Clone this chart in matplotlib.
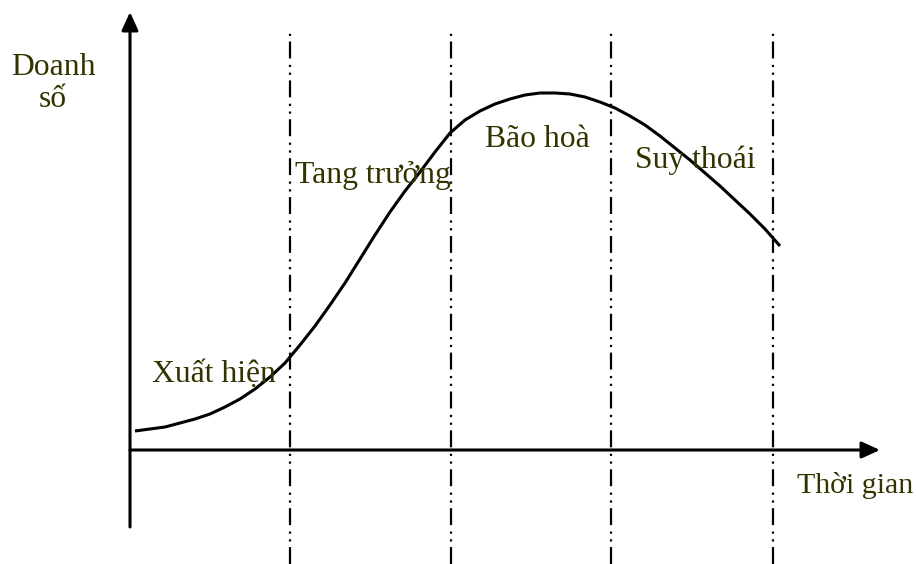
"""
chu ky song san pham: doanh so theo thoi gian
"""

import matplotlib

matplotlib.use("Agg")
import matplotlib.pyplot as plt

plt.rcParams["font.family"] = ["Liberation Serif", "DejaVu Serif"]
plt.rcParams["lines.scale_dashes"] = False

# %%
# doc tu hinh: thoi gian (t) va doanh so (s), goc toa do o giao 2 truc
t_curve = [5, 20, 35, 50, 65, 80, 95, 110, 125, 140, 155, 170, 185, 200,
           215, 230, 245, 260, 275, 290, 305, 320, 335, 350, 365, 380, 395,
           410, 425, 440, 455, 470, 485, 500, 515, 530, 545, 560, 575, 590,
           605, 620, 635, 650]
s_curve = [19, 21, 23, 27, 31, 36, 43, 51, 61, 73, 87, 105, 124, 145,
           167, 191, 215, 238, 259, 278, 298, 317, 330, 339, 346, 351, 355,
           357, 357, 356, 353, 348, 342, 334, 325, 314, 302, 290, 277, 264,
           250, 236, 221, 204]

phase_bounds = [160, 321, 481, 643]
phase_names = ["Xuất hiện", "Tang trưởng", "Bão hoà", "Suy thoái"]
phase_pos = [(22, 68), (165, 267), (355, 303), (505, 282)]

x_label = "Thời gian"
y_label = ["Doanh", "số"]

# %%
fig = plt.figure(figsize=(9.16, 5.64), dpi=100)
ax = fig.add_axes([0, 0, 1, 1])
ax.set_xlim(-130, 786)
ax.set_ylim(-114, 450)
ax.axis("off")

txt_color = "#333300"
fs = 22.8

# cac duong phan chia giai doan
for b in phase_bounds:
    ax.plot([b, b], [-114, 420], color="black", linewidth=1.6,
            dashes=(12.2, 4.0, 1.6, 4.0, 1.6, 4.6))

# truc toa do
ax.annotate("", xy=(750, 0), xytext=(0, 0),
            arrowprops=dict(arrowstyle="-|>,head_length=1.1,head_width=0.5",
                            color="black", lw=2.2, shrinkA=0, shrinkB=0))
ax.annotate("", xy=(0, 438), xytext=(0, -77),
            arrowprops=dict(arrowstyle="-|>,head_length=1.1,head_width=0.5",
                            color="black", lw=2.2, shrinkA=0, shrinkB=0))

# duong cong doanh so
ax.plot(t_curve, s_curve, color="black", linewidth=2.2,
        solid_capstyle="butt", solid_joinstyle="round")

for name, (tx, ty) in zip(phase_names, phase_pos):
    ax.text(tx, ty, name, fontsize=fs, color=txt_color, ha="left",
            va="baseline")

ax.text(783, -43, x_label, fontsize=21.5, color=txt_color, ha="right",
        va="baseline")
ax.text(-77, 375, y_label[0], fontsize=fs, color=txt_color, ha="center",
        va="baseline")
ax.text(-77, 343, y_label[1], fontsize=fs, color=txt_color, ha="center",
        va="baseline")

fig.savefig("out.png", dpi=100)
